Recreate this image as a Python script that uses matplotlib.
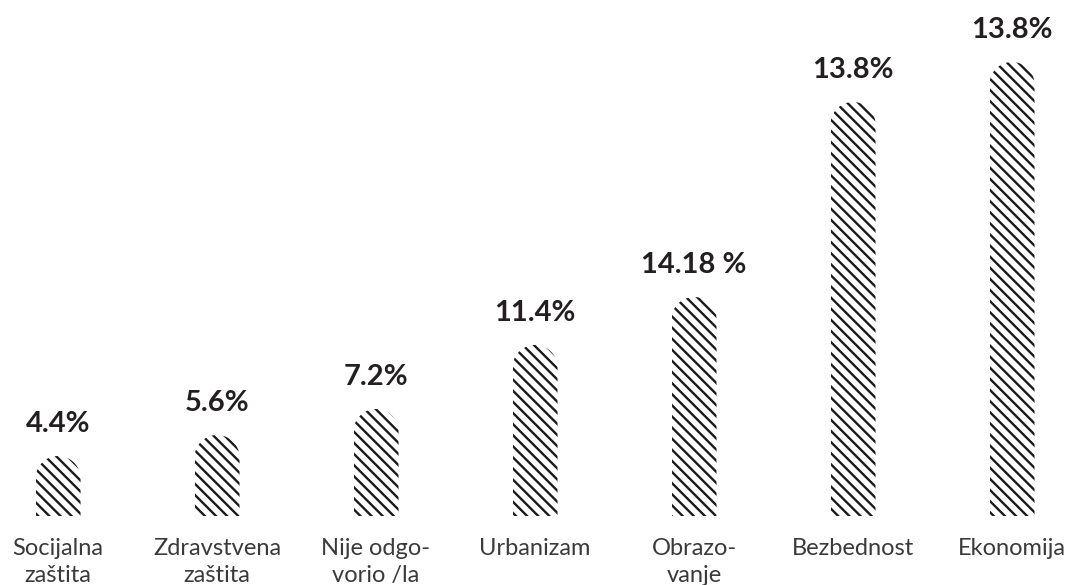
import numpy as np
import matplotlib
matplotlib.use("Agg")
import matplotlib.pyplot as plt
from matplotlib.path import Path
from matplotlib.patches import PathPatch

plt.rcParams['font.family'] = ['Lato', 'DejaVu Sans']
plt.rcParams['hatch.linewidth'] = 1.7

# categories, bar heights (as drawn, arbitrary units) and printed labels
categories = ["Socijalna\nzaštita", "Zdravstvena\nzaštita", "Nije odgo-\nvorio /la",
              "Urbanizam", "Obrazo-\nvanje", "Bezbednost", "Ekonomija"]
bar_heights = [60, 81, 107, 171, 219, 414, 454]
value_labels = ["4.4%", "5.6%", "7.2%", "11.4%", "14.18 %", "13.8%", "13.8%"]

W, H = 1071, 585
fig = plt.figure(figsize=(W / 100, H / 100), dpi=100)
base_px = 69
ax = fig.add_axes([0, base_px / H, 1, 1 - base_px / H])

x = np.arange(len(categories))
bar_w = 0.283
ax.set_xlim(-0.365, 6.371)
ax.set_ylim(0, 516)

bars = ax.bar(x, bar_heights, width=bar_w, color='white', edgecolor='#1a1a1a',
              linewidth=0, hatch='\\\\\\')

# round off the top of every bar with a half circle
px_x = W / (6.371 + 0.365)
px_y = (H - base_px) / 516
for b in bars:
    cx = b.get_x() + b.get_width() / 2
    rx = b.get_width() / 2
    ry = rx * px_x / px_y
    h = b.get_height()
    t = np.linspace(0, np.pi, 60)
    pts = [(cx + rx, 0), (cx + rx, h - ry)]
    pts += list(zip(cx + rx * np.cos(t), h - ry + ry * np.sin(t)))
    pts += [(cx - rx, 0), (cx + rx, 0)]
    clip = PathPatch(Path(pts), transform=ax.transData, facecolor='none', edgecolor='none')
    b.set_clip_path(clip)

for xi, h, lab in zip(x, bar_heights, value_labels):
    ax.annotate(lab, (xi, h), xytext=(0, 14), textcoords='offset points',
                ha='center', va='bottom', fontsize=21, fontweight='bold', color='#231f20')

ax.set_xticks(x)
ax.set_xticklabels(categories, fontsize=17, fontweight='normal', color='#3a3a3a',
                   linespacing=1.35)
ax.tick_params(axis='x', length=0, pad=16)
ax.set_yticks([])
for s in ax.spines.values():
    s.set_visible(False)

fig.savefig("out.png", dpi=100)
